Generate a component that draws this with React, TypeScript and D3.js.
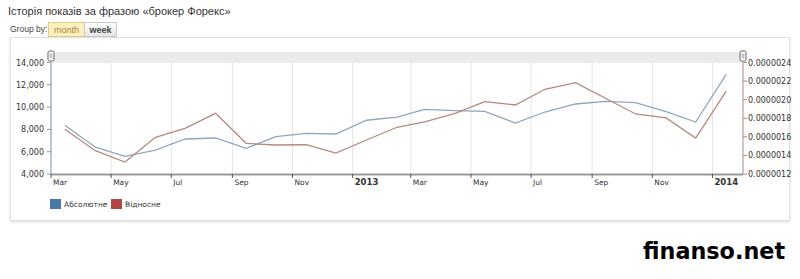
import React from "react";
import * as d3 from "d3";

const months: string[] = [
  "2012-03", "2012-04", "2012-05", "2012-06", "2012-07", "2012-08", "2012-09", "2012-10",
  "2012-11", "2012-12", "2013-01", "2013-02", "2013-03", "2013-04", "2013-05", "2013-06",
  "2013-07", "2013-08", "2013-09", "2013-10", "2013-11", "2013-12", "2014-01",
];
const absolute: number[] = [
  8370, 6400, 5590, 6150, 7140, 7230, 6300, 7345, 7650, 7590, 8820, 9110,
  9800, 9680, 9620, 8570, 9560, 10280, 10520, 10400, 9590, 8660, 12940,
];
const relative: number[] = [
  1.681e-6, 1.451e-6, 1.329e-6, 1.595e-6, 1.692e-6, 1.853e-6, 1.53e-6, 1.512e-6,
  1.515e-6, 1.426e-6, 1.566e-6, 1.703e-6, 1.76e-6, 1.853e-6, 1.978e-6, 1.943e-6,
  2.112e-6, 2.183e-6, 2.013e-6, 1.846e-6, 1.803e-6, 1.587e-6, 2.093e-6,
];
const leftTicks: number[] = [4000, 6000, 8000, 10000, 12000, 14000];
const rightTicks: number[] = [1.2e-6, 1.4e-6, 1.6e-6, 1.8e-6, 2.0e-6, 2.2e-6, 2.4e-6];
const seriesNames: string[] = ["Абсолютне", "Відносне"];

const X0 = 51, X1 = 743, YT = 62.5, YB = 174;

export default function App() {
  const parse = d3.timeParse("%Y-%m-%d");
  const dates = months.map((m) => parse(m + "-15") as Date);
  const x = d3.scaleTime().domain([new Date(2012, 2, 1), new Date(2014, 1, 1)]).range([X0, X1]);
  const yL = d3.scaleLinear().domain([4000, 14000]).range([YB, YT]);
  const yR = d3.scaleLinear().domain([1.2e-6, 2.4e-6]).range([YB, YT]);
  const xTicks = x.ticks(d3.timeMonth.every(2) as any);
  const lineA = d3.line<number>().x((_, i) => x(dates[i])).y((d) => yL(d));
  const lineR = d3.line<number>().x((_, i) => x(dates[i])).y((d) => yR(d));
  const fmtL = d3.format(",");
  const fmtR = d3.format(".7f");
  const axisFont = "'DejaVu Sans', Verdana, sans-serif";

  return (
    <svg width={800} height={279} style={{ position: "absolute", left: 0, top: 0 }}>
      <defs>
        <linearGradient id="wk" x1="0" x2="0" y1="0" y2="1">
          <stop offset="0" stopColor="#ffffff" />
          <stop offset="1" stopColor="#e4e4e4" />
        </linearGradient>
        <filter id="sh" x="-5%" y="-5%" width="110%" height="120%">
          <feDropShadow dx="0" dy="1" stdDeviation="1" floodColor="#000" floodOpacity="0.15" />
        </filter>
      </defs>
      <rect width={800} height={279} fill="#fff" />
      <text x={8} y={15} fontFamily="'Liberation Sans', Arial, sans-serif" fontSize={11} fill="#333">
        Історія показів за фразою «брокер Форекс»
      </text>
      <text x={10} y={32} fontFamily="'Liberation Sans', Arial, sans-serif" fontSize={8.5} fill="#444">
        Group by:
      </text>
      <rect x={48.5} y={22.5} width={36} height={14} fill="#fdf0bd" stroke="#e2d08a" />
      <text x={66.5} y={32.5} textAnchor="middle" fontFamily="'Liberation Sans', Arial, sans-serif" fontSize={9} fill="#a08a40">month</text>
      <rect x={84.5} y={22.5} width={32} height={14} fill="url(#wk)" stroke="#c8c8c8" />
      <text x={100.5} y={32.5} textAnchor="middle" fontFamily="'Liberation Sans', Arial, sans-serif" fontSize={9} fontWeight="bold" fill="#444">week</text>

      <rect x={10.5} y={37.5} width={779} height={183} fill="#fff" stroke="#e0e0e0" filter="url(#sh)" />

      <rect x={X0} y={52} width={X1 - X0} height={11} fill="#ebebeb" />
      {[X0, X1].map((hx, i) => (
        <g key={i}>
          <rect x={hx - 3} y={51} width={6} height={10} rx={1.5} fill="#fff" stroke="#555" strokeWidth={0.9} />
          <line x1={hx - 0.8} x2={hx - 0.8} y1={53.5} y2={58.5} stroke="#777" strokeWidth={0.6} />
          <line x1={hx + 0.8} x2={hx + 0.8} y1={53.5} y2={58.5} stroke="#777" strokeWidth={0.6} />
        </g>
      ))}

      {xTicks.map((t, i) => (
        <line key={i} x1={x(t)} x2={x(t)} y1={63} y2={YB} stroke="#e4e4e4" strokeWidth={1} />
      ))}

      <line x1={X0} x2={X0} y1={63} y2={YB} stroke="#8a99a8" strokeWidth={1} />
      {leftTicks.map((t, i) => (
        <g key={i}>
          <line x1={X0 - 4} x2={X0} y1={yL(t)} y2={yL(t)} stroke="#8a99a8" />
          <text x={X0 - 7} y={yL(t) + 3} textAnchor="end" fontFamily={axisFont} fontSize={8} fill="#333">{fmtL(t)}</text>
        </g>
      ))}
      <line x1={X1} x2={X1} y1={63} y2={YB} stroke="#a88a80" strokeWidth={1} />
      {rightTicks.map((t, i) => (
        <g key={i}>
          <line x1={X1} x2={X1 + 4} y1={yR(t)} y2={yR(t)} stroke="#a88a80" />
          <text x={X1 + 5} y={yR(t) + 3} fontFamily={axisFont} fontSize={8} fill="#333">{fmtR(t)}</text>
        </g>
      ))}

      <path d={lineA(absolute) || ""} fill="none" stroke="#8fa6bd" strokeWidth={1.3} />
      <path d={lineR(relative) || ""} fill="none" stroke="#b88780" strokeWidth={1.3} />

      <line x1={X0} x2={X1} y1={YB + 0.5} y2={YB + 0.5} stroke="#999" strokeWidth={2} />
      {xTicks.map((t, i) => {
        const isYear = t.getMonth() === 0;
        return (
          <g key={i}>
            <line x1={x(t)} x2={x(t)} y1={YB} y2={YB + 4} stroke="#555" strokeWidth={1} />
            <text x={x(t) + 2} y={185} fontFamily={axisFont} fontSize={isYear ? 8.5 : 7.5}
              fontWeight={isYear ? "bold" : "normal"} fill="#333">
              {isYear ? d3.timeFormat("%Y")(t) : d3.timeFormat("%b")(t)}
            </text>
          </g>
        );
      })}

      <rect x={50} y={199} width={11} height={10} fill="#4a78a8" />
      <text x={64} y={207} fontFamily={axisFont} fontSize={7.5} fill="#333">{seriesNames[0]}</text>
      <rect x={111} y={199} width={11} height={10} fill="#b04848" />
      <text x={125} y={207} fontFamily={axisFont} fontSize={7.5} fill="#333">{seriesNames[1]}</text>

      <text x={643} y={259} fontFamily="'DejaVu Sans', Verdana, sans-serif" fontSize={22.3} fontWeight="bold" fill="#000">
        finanso.net
      </text>
    </svg>
  );
}
